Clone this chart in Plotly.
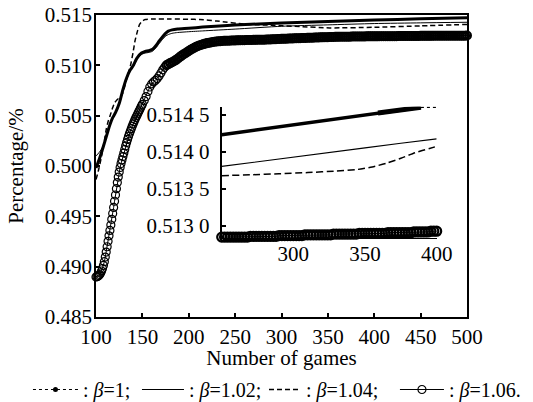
import plotly.graph_objects as go

FONT = "Liberation Serif"

# ---------------- main panel: share of wins vs. number of games ----------------
# beta = 1 (dense dotted series, appears as a heavy line)
b1_games = [100, 104, 108, 112, 115, 118, 121, 125, 129, 133, 137, 140, 144, 149, 153,
            157, 161, 165, 168, 171, 175, 178, 182, 188, 200, 215, 250, 300, 350, 400, 450, 500]
b1_vals = [0.49980, 0.50080, 0.50196, 0.50320, 0.50410, 0.50480, 0.50530, 0.50620, 0.50759,
           0.50875, 0.50955, 0.50995, 0.51070, 0.51122, 0.51138, 0.51145, 0.51160, 0.51200,
           0.51240, 0.51275, 0.51318, 0.51340, 0.51352, 0.51360, 0.51368, 0.51380, 0.51400,
           0.51420, 0.51436, 0.51450, 0.51462, 0.51472]

# beta = 1.02
b102_games = [100, 103, 106, 109, 112, 115, 118, 121, 125, 129, 133, 137, 140, 144, 149, 153,
              157, 161, 165, 168, 171, 175, 178, 182, 188, 200, 215, 250, 300, 350, 400, 450, 500]
b102_vals = [0.50100, 0.50130, 0.50168, 0.50225, 0.50315, 0.50405, 0.50475, 0.50525, 0.50612,
             0.50748, 0.50865, 0.50945, 0.50985, 0.51058, 0.51108, 0.51122, 0.51128, 0.51140,
             0.51178, 0.51215, 0.51250, 0.51290, 0.51306, 0.51318, 0.51326, 0.51334, 0.51342,
             0.51360, 0.51388, 0.51402, 0.51415, 0.51422, 0.51428]

# beta = 1.04
b104_games = [100, 103, 106, 109, 111, 113, 115, 118, 120, 123, 126, 129, 132, 135, 137, 140,
              142, 145, 147, 150, 153, 160, 180, 200, 212, 230, 262, 290, 320, 352, 400, 450, 500]
b104_vals = [0.49865, 0.49970, 0.50097, 0.50250, 0.50362, 0.50440, 0.50494, 0.50580, 0.50627,
             0.50660, 0.50685, 0.50727, 0.50830, 0.50930, 0.50991, 0.51130, 0.51240, 0.51350,
             0.51406, 0.51440, 0.51455, 0.51460, 0.51460, 0.51458, 0.51455, 0.51440, 0.51409,
             0.51398, 0.51385, 0.51372, 0.51378, 0.51392, 0.51406]

# beta = 1.06 (one circle per recorded game)
b106_games_early = list(range(100, 151))
b106_early = [0.48898, 0.48900, 0.48905, 0.48912, 0.48922, 0.48937, 0.48957, 0.48982, 0.49012, 0.49050,
              0.49095, 0.49145, 0.49198, 0.49252, 0.49306, 0.49360, 0.49414, 0.49470, 0.49528, 0.49588,
              0.49650, 0.49712, 0.49775, 0.49835, 0.49890, 0.49940, 0.49985, 0.50025, 0.50060, 0.50094,
              0.50128, 0.50165, 0.50200, 0.50233, 0.50264, 0.50293, 0.50320, 0.50346, 0.50371, 0.50395,
              0.50418, 0.50440, 0.50461, 0.50481, 0.50500, 0.50519, 0.50538, 0.50557, 0.50576, 0.50595,
              0.50613]
b106_games_late = list(range(152, 501, 2))
b106_late = [0.50650, 0.50690, 0.50740, 0.50785, 0.50815, 0.50835, 0.50850, 0.50868, 0.50895, 0.50925,
             0.50955, 0.50980, 0.51000, 0.51012, 0.51022, 0.51030, 0.51040, 0.51052, 0.51066, 0.51080,
             0.51094, 0.51107, 0.51118, 0.51130, 0.51142, 0.51154, 0.51165, 0.51175, 0.51184, 0.51192,
             0.51199, 0.51205, 0.51211, 0.51216, 0.51221, 0.51225, 0.51228, 0.51231, 0.51234, 0.51236,
             0.51238, 0.51240, 0.51242, 0.51243, 0.51244, 0.51244, 0.51245, 0.51246, 0.51246, 0.51247,
             0.51248, 0.51248, 0.51249, 0.51250, 0.51250, 0.51251, 0.51251, 0.51252, 0.51252, 0.51253,
             0.51253, 0.51254, 0.51254, 0.51254, 0.51255, 0.51255, 0.51256, 0.51256, 0.51257, 0.51258,
             0.51259, 0.51260, 0.51261, 0.51262, 0.51263, 0.51263, 0.51264, 0.51265, 0.51266, 0.51267,
             0.51267, 0.51268, 0.51269, 0.51270, 0.51270, 0.51271, 0.51272, 0.51272, 0.51273, 0.51274,
             0.51274, 0.51275, 0.51276, 0.51276, 0.51277, 0.51278, 0.51278, 0.51279, 0.51280, 0.51280,
             0.51281, 0.51281, 0.51282, 0.51283, 0.51283, 0.51284, 0.51284, 0.51284, 0.51285, 0.51285,
             0.51285, 0.51285, 0.51286, 0.51286, 0.51286, 0.51286, 0.51287, 0.51287, 0.51287, 0.51287,
             0.51288, 0.51288, 0.51288, 0.51288, 0.51288, 0.51288, 0.51288, 0.51289, 0.51289, 0.51289,
             0.51289, 0.51289, 0.51290, 0.51290, 0.51290, 0.51290, 0.51290, 0.51291, 0.51291, 0.51291,
             0.51291, 0.51291, 0.51291, 0.51292, 0.51292, 0.51292, 0.51292, 0.51292, 0.51292, 0.51293,
             0.51293, 0.51293, 0.51293, 0.51293, 0.51293, 0.51293, 0.51294, 0.51294, 0.51294, 0.51294,
             0.51294, 0.51294, 0.51294, 0.51294, 0.51295, 0.51295, 0.51295, 0.51295, 0.51295, 0.51295,
             0.51295, 0.51295, 0.51295, 0.51295, 0.51296]

# ---------------- inset: games 250-400 ----------------
ins_b1_games = [250, 300, 359, 389, 400]
ins_b1_vals = [0.514234, 0.514368, 0.514527, 0.514603, 0.514603]

ins_b102_games = [250, 275, 300, 325, 350, 375, 400]
ins_b102_vals = [0.513805, 0.513865, 0.513928, 0.513992, 0.514055, 0.514118, 0.514176]

ins_b104_games = [250, 270, 290, 310, 330, 345, 355, 365, 375, 385, 395, 400]
ins_b104_vals = [0.513680, 0.513692, 0.513706, 0.513722, 0.513742, 0.513765, 0.513798,
                 0.513848, 0.513915, 0.513990, 0.514048, 0.514076]

ins_b106_games = list(range(250, 401, 2))
ins_b106_vals = ([0.51285] * 10 + [0.51286] * 10 + [0.51287] * 9 + [0.51288] * 10 +
                 [0.51289] * 9 + [0.51290] * 10 + [0.51291] * 9 + [0.51292] * 6 + [0.51293] * 3)

main_xticks = list(range(100, 501, 50))
main_yticks = [0.485, 0.490, 0.495, 0.500, 0.505, 0.510, 0.515]
inset_xticks = [300, 350, 400]
inset_yticks = [0.5130, 0.5135, 0.5140, 0.5145]
inset_yticklabels = ["0.513 0", "0.513 5", "0.514 0", "0.514 5"]

legend_names = [": <i>β</i>=1;", ": <i>β</i>=1.02;", ": <i>β</i>=1.04;", ": <i>β</i>=1.06."]

fig = go.Figure()

# heavier ring outlines where the circles pile up into a band
b106_x = b106_games_early + b106_games_late
b106_y = b106_early + b106_late
ring_widths = [1.2 if g < 175 else 2.0 for g in b106_x]

fig.add_trace(go.Scatter(x=b106_x, y=b106_y,
                         mode="lines+markers", line=dict(color="black", width=1),
                         marker=dict(symbol="circle-open", size=8, color="black",
                                     line=dict(width=ring_widths, color="black")),
                         cliponaxis=False, showlegend=False))
fig.add_trace(go.Scatter(x=b104_games, y=b104_vals, mode="lines",
                         line=dict(color="black", width=1.5, dash="5px,3px", shape="spline", smoothing=0.6),
                         showlegend=False))
fig.add_trace(go.Scatter(x=b102_games, y=b102_vals, mode="lines",
                         line=dict(color="black", width=1, shape="spline", smoothing=0.6),
                         showlegend=False))
fig.add_trace(go.Scatter(x=b1_games, y=b1_vals, mode="lines",
                         line=dict(color="black", width=3, shape="spline", smoothing=0.6),
                         showlegend=False))

# inset curves
fig.add_trace(go.Scatter(x=ins_b106_games, y=ins_b106_vals, xaxis="x2", yaxis="y2",
                         mode="lines+markers", line=dict(color="black", width=1),
                         marker=dict(symbol="circle-open", size=9, color="black", line=dict(width=2.2)),
                         cliponaxis=False, showlegend=False))
fig.add_trace(go.Scatter(x=ins_b104_games, y=ins_b104_vals, xaxis="x2", yaxis="y2", mode="lines",
                         line=dict(color="black", width=1.5, dash="7px,3.5px", shape="spline", smoothing=0.6),
                         showlegend=False))
fig.add_trace(go.Scatter(x=ins_b102_games, y=ins_b102_vals, xaxis="x2", yaxis="y2", mode="lines",
                         line=dict(color="black", width=1.2), showlegend=False))
fig.add_trace(go.Scatter(x=ins_b1_games[:4], y=ins_b1_vals[:4], xaxis="x2", yaxis="y2", mode="lines",
                         line=dict(color="black", width=3.5), showlegend=False))
fig.add_trace(go.Scatter(x=ins_b1_games[2:4], y=ins_b1_vals[2:4], xaxis="x2", yaxis="y2", mode="lines",
                         line=dict(color="black", width=5), showlegend=False))
fig.add_trace(go.Scatter(x=ins_b1_games[3:], y=ins_b1_vals[3:], xaxis="x2", yaxis="y2", mode="lines",
                         line=dict(color="black", width=1.5, dash="dot"), showlegend=False))

# legend keys, one legend box per entry so the row can be laid out freely
fig.add_trace(go.Scatter(x=[None], y=[None], name=legend_names[0], mode="lines+markers",
                         line=dict(color="black", width=1, dash="dot"),
                         marker=dict(symbol="circle", size=5, color="black"), legend="legend"))
fig.add_trace(go.Scatter(x=[None], y=[None], name=legend_names[1], mode="lines",
                         line=dict(color="black", width=1), legend="legend2"))
fig.add_trace(go.Scatter(x=[None], y=[None], name=legend_names[2], mode="lines",
                         line=dict(color="black", width=1.5, dash="5px,3px"), legend="legend3"))
fig.add_trace(go.Scatter(x=[None], y=[None], name=legend_names[3], mode="lines+markers",
                         line=dict(color="black", width=1),
                         marker=dict(symbol="circle-open", size=8, color="black", line=dict(width=1.2)),
                         legend="legend4"))

axis_common = dict(showgrid=False, zeroline=False, showline=True, linecolor="black",
                   color="black", automargin=False)


def legend_box(x, itemwidth):
    return dict(orientation="h", xref="container", yref="container",
                x=x, xanchor="left", y=0.0796, yanchor="top",
                font=dict(size=20, family=FONT), itemwidth=itemwidth,
                bgcolor="rgba(0,0,0,0)", itemclick=False, itemdoubleclick=False)


fig.update_layout(
    width=533, height=402,
    margin=dict(l=96, r=66, t=15, b=85),
    paper_bgcolor="white", plot_bgcolor="white",
    font=dict(family=FONT, size=21, color="black"),
    xaxis=dict(**axis_common, domain=[0, 1], range=[100, 500], tickvals=main_xticks,
               ticks="inside", ticklen=4, tickwidth=1.5, linewidth=1.5, mirror=True,
               tickfont=dict(size=21), ticklabelstandoff=0,
               title=dict(text="Number of games", font=dict(size=21))),
    yaxis=dict(**axis_common, domain=[0, 1], range=[0.485, 0.515], tickvals=main_yticks,
               tickformat=".3f", ticks="inside", ticklen=4, tickwidth=1.5, linewidth=1.5, mirror=True,
               tickfont=dict(size=21), ticklabelstandoff=-2,
               title=dict(text="Percentage/%", font=dict(size=21))),
    xaxis2=dict(**axis_common, domain=[0.3388, 0.9183], anchor="y2", range=[250, 400],
                tickvals=inset_xticks, ticks="", linewidth=1, tickfont=dict(size=21),
                ticklabelstandoff=-3),
    yaxis2=dict(**axis_common, domain=[0.2606, 0.6964], anchor="x2", range=[0.512834, 0.514612],
                tickvals=inset_yticks, ticktext=inset_yticklabels, ticks="inside", ticklen=4,
                tickwidth=2, linewidth=2, tickfont=dict(size=21), ticklabelstandoff=6),
    legend=legend_box(0.0525, 45),
    legend2=legend_box(0.257, 42),
    legend3=legend_box(0.4953, 32),
    legend4=legend_box(0.741, 44),
)

fig.write_html("out.html")
